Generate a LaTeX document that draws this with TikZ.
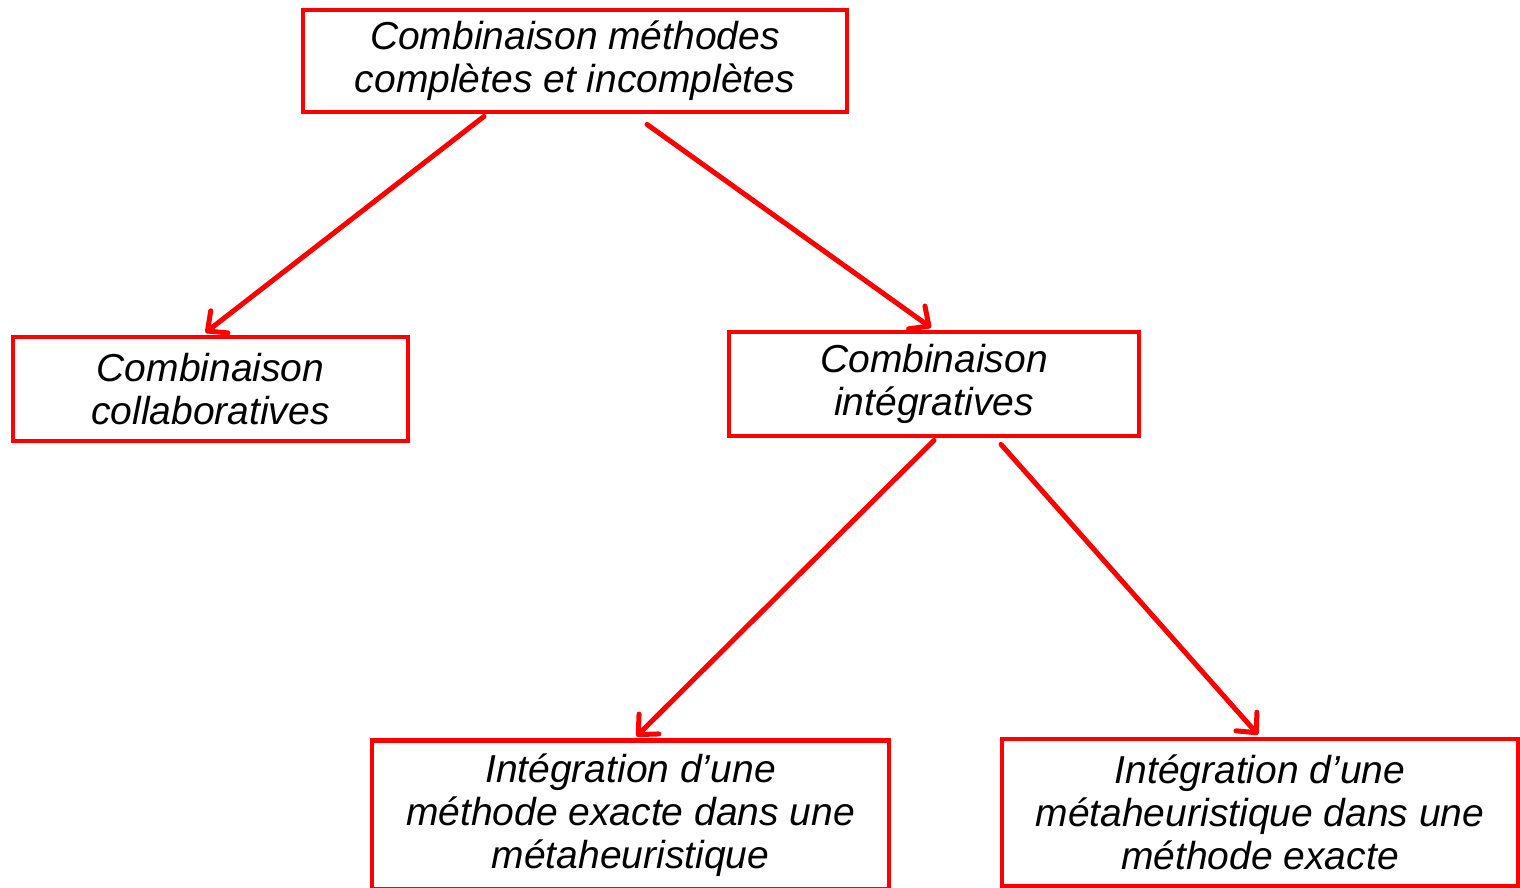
\documentclass[tikz,border=0pt]{standalone}
\usepackage{fontspec}
\setmainfont{Liberation Sans}
\usetikzlibrary{arrows.meta}
\tikzset{
  box/.style={draw=red, line width=2.4pt, fill=white, inner sep=0pt, align=center,
    font=\itshape\fontsize{19.5}{21.5}\selectfont},
  link/.style={draw=red, line width=2.5pt, line cap=round,
    -{Straight Barb[length=7.5pt,width=14pt,line width=2.5pt,round]}}
}
\begin{document}
\begin{tikzpicture}[x=0.5pt,y=-0.5pt]
\useasboundingbox (0,0) rectangle (1520,888);
\node[box, minimum width=272pt, minimum height=51pt] (top) at (575,61)
  {Combinaison méthodes\\complètes et incomplètes};
\node[box, minimum width=197.5pt, minimum height=52pt] (coll) at (210.5,389)
  {Combinaison\\collaboratives};
\node[box, minimum width=205pt, minimum height=52pt] (integ) at (934,384)
  {Combinaison\\intégratives};
\node[box, minimum width=258.5pt, minimum height=74.25pt] (exmeta) at (630.5,815)
  {Intégration d’une\\méthode exacte dans une\\métaheuristique};
\node[box, minimum width=258pt, minimum height=73.5pt] (metaex) at (1260,812.5)
  {Intégration d’une\\métaheuristique dans une\\méthode exacte};

\draw[link] ([xshift=-45.5pt,yshift=-1pt]top.south) -- ([xshift=-2.5pt,yshift=1pt]coll.north);
\draw[link] ([xshift=36pt,yshift=-5pt]top.south) -- ([xshift=-1.5pt,yshift=1pt]integ.north);
\draw[link] ([yshift=-1pt]integ.south) -- ([xshift=3pt,yshift=1pt]exmeta.north);
\draw[link] ([xshift=33.5pt,yshift=-3pt]integ.south) -- ([xshift=-1pt,yshift=1pt]metaex.north);
\end{tikzpicture}
\end{document}
